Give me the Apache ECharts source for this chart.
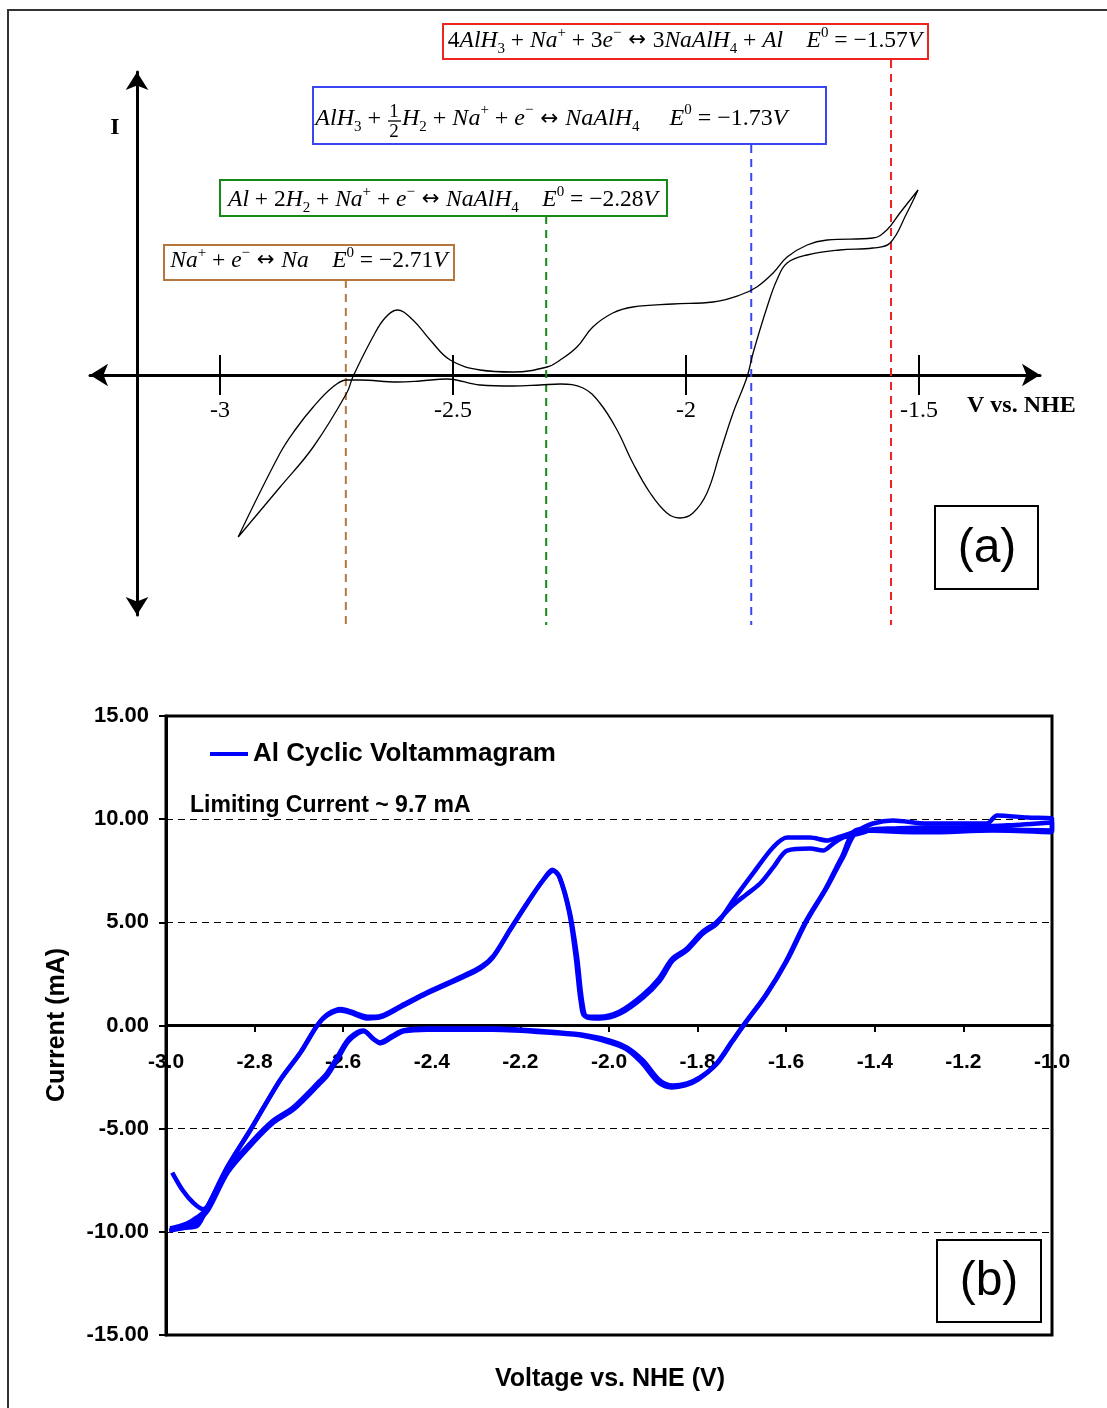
<!DOCTYPE html>
<html><head><meta charset="utf-8">
<script src="https://cdn.jsdelivr.net/npm/echarts@6/dist/echarts.min.js"></script>
<style>html,body{margin:0;padding:0;background:#fff}#c{width:1107px;height:1408px}</style>
</head><body><div id="c"></div>
<script>
// ---------- Panel (a): schematic CV (V vs. NHE, arbitrary current units) ----------
const schematicLoop = [
  [-2.961,-162],[-2.871,-112],[-2.800,-72],[-2.728,-18],[-2.715,-2],[-2.672,38],[-2.646,57],[-2.620,65],
  [-2.586,55],[-2.549,35],[-2.506,15],[-2.442,5],[-2.371,3],[-2.298,8],[-2.270,15],[-2.234,28],[-2.200,48],
  [-2.157,62],[-2.114,68],[-2.028,71],[-1.942,73],[-1.884,80],[-1.848,88],[-1.813,102],[-1.783,118],
  [-1.740,130],[-1.697,135],[-1.599,137],[-1.569,145],[-1.541,162],[-1.502,185],
  [-1.526,162],[-1.562,132],[-1.599,127],[-1.670,125],[-1.740,120],[-1.783,112],[-1.805,95],[-1.826,68],
  [-1.856,22],[-1.869,-2],[-1.899,-38],[-1.927,-78],[-1.955,-118],[-1.985,-138],[-2.013,-143],[-2.041,-138],
  [-2.077,-118],[-2.114,-88],[-2.148,-55],[-2.185,-28],[-2.221,-13],[-2.270,-9],[-2.313,-10],[-2.371,-11],
  [-2.442,-10],[-2.513,-4],[-2.571,-6],[-2.620,-7],[-2.700,-5],[-2.728,-5],[-2.758,-12],[-2.800,-32],
  [-2.839,-55],[-2.871,-78],[-2.961,-162]
];
const schematicTicks = [-3, -2.5, -2, -1.5];
const refLinePos = [-2.73, -2.30, -1.86, -1.56];
const refLineTop = [95, 159, 230, 315];
const refLineBottom = -250;
const refColors = ['#b5773d', '#168a16', '#3a46f2', '#f02222'];

// ---------- Panel (b): measured Al cyclic voltammogram ----------
const cycleA = [
  [-2.991,-9.85],[-2.955,-9.8],[-2.930,-9.72],[-2.907,-8.82],[-2.862,-6.88],[-2.810,-5.09],[-2.743,-2.67],
  [-2.698,-1.36],[-2.659,0.0],[-2.637,0.48],[-2.607,0.73],[-2.585,0.63],[-2.546,0.34],[-2.517,0.39],
  [-2.472,0.87],[-2.411,1.55],[-2.336,2.28],[-2.291,2.76],[-2.262,3.30],[-2.224,4.60],[-2.185,5.90],
  [-2.149,7.03],[-2.126,7.50],[-2.111,7.17],[-2.088,5.43],[-2.072,3.30],[-2.061,1.21],[-2.050,0.39],
  [-2.020,0.34],[-1.975,0.58],[-1.923,1.36],[-1.885,2.18],[-1.856,3.15],[-1.824,3.64],[-1.788,4.46],
  [-1.756,4.94],[-1.720,6.06],[-1.675,7.37],[-1.630,8.63],[-1.598,9.11],[-1.546,9.11],[-1.508,8.97],
  [-1.485,9.11],[-1.449,9.36],[-1.404,9.79],[-1.359,9.94],[-1.282,9.79],[-1.208,9.79],[-1.147,9.79],
  [-1.124,10.18],[-1.056,10.08],[-1.0,10.03],
  [-1.0,9.36],[-1.133,9.45],[-1.282,9.36],[-1.433,9.45],[-1.472,8.14],[-1.508,6.69],[-1.553,5.09],
  [-1.598,3.15],[-1.643,1.55],[-1.688,0.24],[-1.720,-0.73],[-1.756,-1.84],[-1.795,-2.52],[-1.824,-2.81],
  [-1.856,-2.91],[-1.885,-2.67],[-1.923,-1.70],[-1.959,-1.07],[-1.998,-0.73],[-2.050,-0.48],[-2.111,-0.34],
  [-2.262,-0.15],[-2.411,-0.15],[-2.465,-0.24],[-2.488,-0.48],[-2.517,-0.82],[-2.533,-0.63],[-2.555,-0.24],
  [-2.569,-0.34],[-2.591,-0.73],[-2.614,-1.55],[-2.637,-2.33],[-2.652,-2.67],[-2.713,-3.97],[-2.758,-4.60],
  [-2.804,-5.57],[-2.862,-7.03],[-2.907,-8.87],[-2.930,-9.30],[-2.953,-9.60],[-2.991,-9.84]
];
const cycleB = [
  [-2.986,-7.13],[-2.962,-8.0],[-2.939,-8.58],[-2.916,-8.9],[-2.905,-8.7],[-2.860,-6.8],[-2.808,-5.0],
  [-2.741,-2.6],[-2.696,-1.3],[-2.657,0.05],[-2.635,0.55],[-2.605,0.8],[-2.583,0.68],[-2.544,0.42],
  [-2.515,0.47],[-2.470,0.95],[-2.409,1.62],[-2.334,2.36],[-2.289,2.85],[-2.260,3.40],[-2.222,4.70],
  [-2.183,6.0],[-2.147,7.1],[-2.128,7.55],[-2.113,7.25],[-2.090,5.5],[-2.075,3.3],[-2.064,1.2],[-2.054,0.45],
  [-2.022,0.42],[-1.977,0.66],[-1.925,1.45],[-1.887,2.28],[-1.858,3.22],[-1.826,3.70],[-1.790,4.52],
  [-1.758,5.0],[-1.722,5.8],[-1.690,6.35],[-1.659,6.88],[-1.628,7.7],[-1.598,8.48],[-1.546,8.58],
  [-1.517,8.48],[-1.494,8.82],[-1.472,9.11],[-1.433,9.31],[-1.404,9.5],[-1.359,9.55],[-1.282,9.6],
  [-1.208,9.6],[-1.100,9.7],[-1.0,9.84],
  [-1.0,9.45],[-1.133,9.5],[-1.282,9.42],[-1.437,9.5],[-1.476,8.1],[-1.512,6.6],[-1.557,5.0],[-1.602,3.05],
  [-1.647,1.45],[-1.692,0.15],[-1.724,-0.82],[-1.760,-1.92],[-1.799,-2.62],[-1.828,-2.9],[-1.858,-3.0],
  [-1.889,-2.75],[-1.927,-1.78],[-1.963,-1.12],[-2.002,-0.80],[-2.054,-0.52],[-2.115,-0.38],[-2.262,-0.2],
  [-2.411,-0.2],[-2.463,-0.28],[-2.486,-0.52],[-2.515,-0.86],[-2.531,-0.67],[-2.553,-0.28],[-2.567,-0.38],
  [-2.589,-0.78],[-2.612,-1.6],[-2.635,-2.4],[-2.650,-2.75],[-2.711,-4.05],[-2.756,-4.68],[-2.802,-5.65],
  [-2.860,-7.1],[-2.905,-8.95],[-2.928,-9.45],[-2.951,-9.75],[-2.993,-9.95]
];
const seriesName = 'Al Cyclic Voltammagram';

// ---------- helpers ----------
const SERIF = 'Liberation Serif';
const SANS = 'Liberation Sans';
function richEq(fs) {
  const sub = Math.round(fs * 0.62);
  return {
    v: {fontFamily: SERIF, fontStyle: 'italic', fontSize: fs, lineHeight: fs + 8, verticalAlign: 'middle', fill: '#000'},
    n: {fontFamily: SERIF, fontSize: fs, lineHeight: fs + 8, verticalAlign: 'middle', fill: '#000'},
    ar: {fontFamily: 'DejaVu Sans', fontSize: fs * 0.9, lineHeight: fs + 8, verticalAlign: 'middle', fill: '#000'},
    sb: {fontFamily: SERIF, fontSize: sub, lineHeight: sub, verticalAlign: 'bottom', fill: '#000'},
    sp: {fontFamily: SERIF, fontSize: sub, lineHeight: sub, verticalAlign: 'top', fill: '#000'}
  };
}
function eq(x, y, text, fs, align) {
  return {type: 'text', x: x, y: y, z: 20,
    style: {text: text, align: align || 'center', verticalAlign: 'middle', rich: richEq(fs)}};
}
function box(x, y, w, h, color, lw) {
  return {type: 'rect', z: 15, shape: {x: x, y: y, width: w, height: h},
    style: {fill: '#fff', stroke: color, lineWidth: lw || 2}};
}
const EQ = 23.5;
const EQB = 24;

const graphics = [
  // figure frame
  {type: 'rect', z: 0, shape: {x: 8, y: 10, width: 1300, height: 1500}, style: {fill: 'none', stroke: '#333', lineWidth: 2}},
  // equation boxes
  box(443, 24, 485, 35, '#f02222'),
  eq(685, 41, '{n|4}{v|AlH}{sb|3}{n| + }{v|Na}{sp|+}{n| + 3}{v|e}{sp|−}{ar| ↔ }{n|3}{v|NaAlH}{sb|4}{n| + }{v|Al}{n|    }{v|E}{sp|0}{n| = −1.57}{v|V}', EQ),
  box(313, 87, 513, 57, '#3a46f2'),
  eq(387, 119, '{v|AlH}{sb|3}{n| + }', EQB, 'right'),
  {type: 'text', x: 394, y: 112, z: 20, style: {text: '1', font: '19px ' + SERIF, fill: '#000', align: 'center', verticalAlign: 'middle'}},
  {type: 'line', z: 20, shape: {x1: 388, y1: 121, x2: 401, y2: 121}, style: {stroke: '#000', lineWidth: 1.3}},
  {type: 'text', x: 394, y: 132, z: 20, style: {text: '2', font: '19px ' + SERIF, fill: '#000', align: 'center', verticalAlign: 'middle'}},
  eq(402, 119, '{v|H}{sb|2}{n| + }{v|Na}{sp|+}{n| + }{v|e}{sp|−}{ar| ↔ }{v|NaAlH}{sb|4}{n|     }{v|E}{sp|0}{n| = −1.73}{v|V}', EQB, 'left'),
  box(220, 180, 447, 36, '#168a16'),
  eq(443, 200, '{v|Al}{n| + 2}{v|H}{sb|2}{n| + }{v|Na}{sp|+}{n| + }{v|e}{sp|−}{ar| ↔ }{v|NaAlH}{sb|4}{n|    }{v|E}{sp|0}{n| = −2.28}{v|V}', EQ),
  box(164, 245, 290, 35, '#b5773d'),
  eq(309, 261, '{v|Na}{sp|+}{n| + }{v|e}{sp|−}{ar| ↔ }{v|Na}{n|    }{v|E}{sp|0}{n| = −2.71}{v|V}', EQ),
  // axis labels of panel (a)
  {type: 'text', x: 115, y: 128, z: 20, style: {text: 'I', font: 'bold 24px ' + SERIF, fill: '#000', align: 'center', verticalAlign: 'middle'}},
  {type: 'text', x: 967, y: 406, z: 20, style: {text: 'V vs. NHE', font: 'bold 24px ' + SERIF, fill: '#000', align: 'left', verticalAlign: 'middle'}},
  // (a) label box
  box(935, 506, 103, 83, '#000', 2),
  {type: 'text', x: 987, y: 549, z: 20, style: {text: '(a)', font: '48px ' + SANS, fill: '#000', align: 'center', verticalAlign: 'middle'}},
  // panel (b) texts
  {type: 'text', x: 190, y: 806, z: 20, style: {text: 'Limiting Current ~ 9.7 mA', font: 'bold 23px ' + SANS, fill: '#000', align: 'left', verticalAlign: 'middle'}},
  {type: 'text', x: 610, y: 1379, z: 20, style: {text: 'Voltage vs. NHE (V)', font: 'bold 25px ' + SANS, fill: '#000', align: 'center', verticalAlign: 'middle'}},
  {type: 'text', x: 57, y: 1025, z: 20, rotation: Math.PI / 2, style: {text: 'Current (mA)', font: 'bold 25px ' + SANS, fill: '#000', align: 'center', verticalAlign: 'middle'}},
  box(937, 1240, 104, 82, '#000', 2),
  {type: 'text', x: 989, y: 1282, z: 20, style: {text: '(b)', font: '48px ' + SANS, fill: '#000', align: 'center', verticalAlign: 'middle'}}
];

const refSeries = refLinePos.map((v, i) => ({
  type: 'line', name: 'ref' + i, xAxisIndex: 0, yAxisIndex: 0, clip: false, silent: true,
  showSymbol: false, symbol: 'none', z: 3,
  data: [[v, refLineTop[i]], [v, refLineBottom]],
  lineStyle: {color: refColors[i], width: 2, type: [8, 6]}
}));

// panel (a) grid: 90..1040 px horizontally, 72..615 px vertically; zero of I at y=375
const A_MIN = -3.2790, A_MAX = -1.2403;
const cvStyle = {color: '#0000ff', width: 4.5};
const option = {
  animation: false,
  backgroundColor: '#fff',
  grid: [
    {left: 90, top: 72, width: 950, height: 543, show: false},
    {left: 166, top: 716, width: 886, height: 619, show: true, borderColor: '#000', borderWidth: 3, backgroundColor: 'transparent'}
  ],
  legend: {
    data: [seriesName], left: 205, top: 736, icon: 'rect', itemWidth: 38, itemHeight: 4,
    textStyle: {fontFamily: SANS, fontWeight: 'bold', fontSize: 26, color: '#000'}
  },
  xAxis: [
    {gridIndex: 0, type: 'value', min: A_MIN, max: A_MAX, position: 'bottom', offset: -240,
      axisLine: {onZero: false, symbol: ['arrow', 'arrow'], symbolSize: [17, 18], lineStyle: {color: '#000', width: 3}},
      axisTick: {show: true, customValues: schematicTicks, length: 20, lineStyle: {color: '#000', width: 2}},
      axisLabel: {customValues: schematicTicks, formatter: v => String(v), fontFamily: SERIF, fontSize: 24, color: '#000', margin: 24},
      splitLine: {show: false}},
    {gridIndex: 0, type: 'value', min: A_MIN, max: A_MAX, position: 'bottom', offset: -240,
      axisLine: {show: false, onZero: false},
      axisTick: {show: true, inside: true, customValues: schematicTicks, length: 20, lineStyle: {color: '#000', width: 2}},
      axisLabel: {show: false}, splitLine: {show: false}},
    {gridIndex: 1, type: 'value', min: -3, max: -1, interval: 0.2, position: 'bottom', offset: -310,
      axisLine: {onZero: false, lineStyle: {color: '#000', width: 3}},
      axisTick: {show: true, length: 7, lineStyle: {color: '#000', width: 2}},
      axisLabel: {formatter: v => v.toFixed(1), fontFamily: SANS, fontWeight: 'bold', fontSize: 21, color: '#000', margin: 27},
      splitLine: {show: false}}
  ],
  yAxis: [
    {gridIndex: 0, type: 'value', min: -240, max: 303, offset: -47,
      axisLine: {show: true, onZero: false, symbol: ['arrow', 'arrow'], symbolSize: [17, 18], lineStyle: {color: '#000', width: 3}},
      axisTick: {show: false}, axisLabel: {show: false}, splitLine: {show: false}},
    {gridIndex: 1, type: 'value', min: -15, max: 15, interval: 5,
      axisLine: {show: true, onZero: false, lineStyle: {color: '#000', width: 3}},
      axisTick: {show: true, length: 7, lineStyle: {color: '#000', width: 2}},
      axisLabel: {formatter: v => v.toFixed(2), fontFamily: SANS, fontWeight: 'bold', fontSize: 22, color: '#000', margin: 17},
      splitLine: {show: true, lineStyle: {color: '#000', width: 1, type: [7, 5]}}}
  ],
  series: [
    {type: 'line', name: 'schematic', xAxisIndex: 0, yAxisIndex: 0, data: schematicLoop, smooth: 0.4,
      showSymbol: false, symbol: 'none', z: 4, lineStyle: {color: '#000', width: 1.3}},
    ...refSeries,
    {type: 'line', name: seriesName, xAxisIndex: 2, yAxisIndex: 1, data: cycleA, smooth: 0.3,
      showSymbol: false, symbol: 'none', lineStyle: cvStyle, itemStyle: {color: '#0000ff'}},
    {type: 'line', name: seriesName, xAxisIndex: 2, yAxisIndex: 1, data: cycleB, smooth: 0.3,
      showSymbol: false, symbol: 'none', lineStyle: cvStyle, itemStyle: {color: '#0000ff'}}
  ],
  graphic: {elements: graphics}
};
const chart = echarts.init(document.getElementById('c'), null, {renderer: 'canvas'});
chart.setOption(option);
</script></body></html>
